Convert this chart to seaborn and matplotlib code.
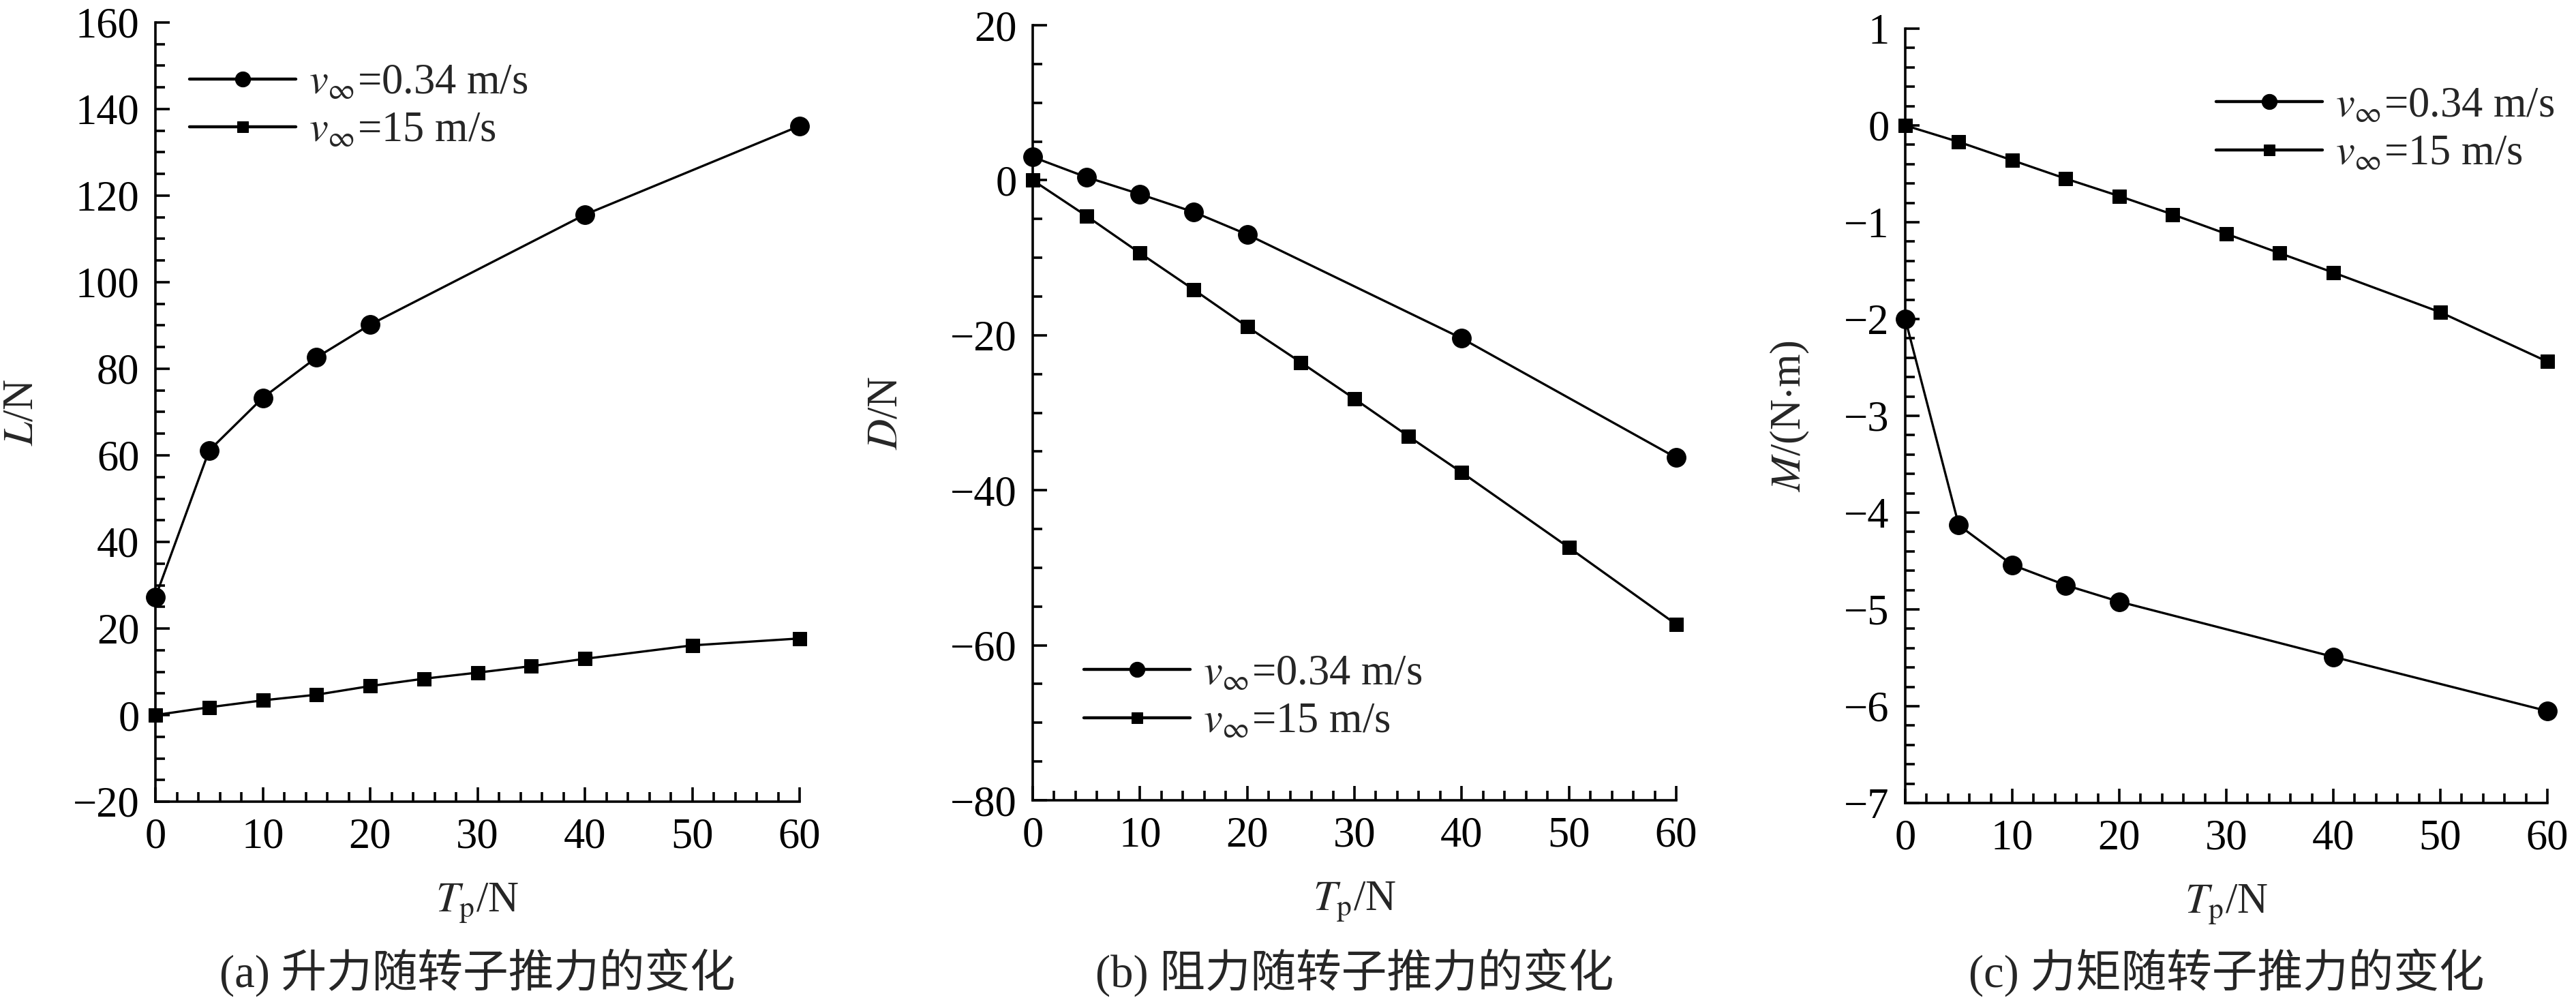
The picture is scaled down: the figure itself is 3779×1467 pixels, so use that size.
import matplotlib
matplotlib.use("Agg")
import matplotlib.pyplot as plt
import seaborn as sns
from matplotlib.ticker import MultipleLocator

# ─── Data ─────────────────────────────────────────────────────────────────────
tp_slow = [0, 5, 10, 15, 20, 40, 60]
tp_fast = [0, 5, 10, 15, 20, 25, 30, 35, 40, 50, 60]

lift_slow = [27.2, 61.1, 73.3, 82.6, 90.2, 115.6, 136.1]
lift_fast = [0.0, 1.8, 3.4, 4.7, 6.7, 8.4, 9.8, 11.3, 13.0, 16.1, 17.7]

drag_slow = [3.0, 0.4, -1.8, -4.1, -7.0, -20.4, -35.8]
drag_fast = [0.0, -4.6, -9.4, -14.1, -18.9, -23.5, -28.2, -33.0, -37.7, -47.4, -57.3]

mom_slow = [-2.0, -4.13, -4.54, -4.75, -4.92, -5.49, -6.05]
mom_fast = [0.0, -0.17, -0.36, -0.55, -0.73, -0.92, -1.12, -1.32, -1.52, -1.93, -2.44]

label_slow = r"$v_{\infty}$=0.34 m/s"
label_fast = r"$v_{\infty}$=15 m/s"

ylabels = [r"$L$/N", r"$D$/N", r"$M$/(N$\cdot$m)"]
captions = ["(a) 升力随转子推力的变化", "(b) 阻力随转子推力的变化", "(c) 力矩随转子推力的变化"]
ylims = [(-20, 160), (-80, 20), (-7, 1)]
ymajor = [20, 20, 1]
yminor = [5, 5, 0.2]

# ─── Style ────────────────────────────────────────────────────────────────────
sns.set_style("ticks")
plt.rcParams["font.family"] = ["Liberation Serif", "Noto Sans CJK SC"]
plt.rcParams["mathtext.fontset"] = "stix"
plt.rcParams["axes.unicode_minus"] = True

FS = 45
W, H = 3780, 1467
fig = plt.figure(figsize=(W / 100, H / 100), dpi=100)

# axes boxes in pixels: (left, top, right, bottom)
boxes = [(228, 33, 1173, 1176), (1515, 37, 2459, 1174), (2795, 42, 3737, 1178)]
ylabel_x = [-0.176, -0.196, -0.146]
legend_anchor = [(0.053, 0.947), (0.079, 0.188), (0.484, 0.925)]

panels = [
    (lift_slow, lift_fast),
    (drag_slow, drag_fast),
    (mom_slow, mom_fast),
]

for i, (ys, yf) in enumerate(panels):
    l, t, r, b = boxes[i]
    ax = fig.add_axes([l / W, 1 - b / H, (r - l) / W, (b - t) / H])

    sns.lineplot(x=tp_slow, y=ys, ax=ax, color="black", lw=2.4, marker="o",
                 markersize=20, markeredgecolor="black", label=label_slow,
                 clip_on=False, zorder=3)
    sns.lineplot(x=tp_fast, y=yf, ax=ax, color="black", lw=2.4, marker="s",
                 markersize=14, markeredgecolor="black", label=label_fast,
                 clip_on=False, zorder=3)

    ax.set_xlim(0, 60)
    ax.set_ylim(*ylims[i])
    ax.xaxis.set_major_locator(MultipleLocator(10))
    ax.xaxis.set_minor_locator(MultipleLocator(2))
    ax.yaxis.set_major_locator(MultipleLocator(ymajor[i]))
    ax.yaxis.set_minor_locator(MultipleLocator(yminor[i]))

    sns.despine(ax=ax)
    for side in ["left", "bottom"]:
        ax.spines[side].set_linewidth(2.6)
        ax.spines[side].set_color("black")
    ax.tick_params(which="both", direction="in", width=2.6, colors="black",
                   labelsize=FS, top=False, right=False)
    ax.tick_params(which="major", length=15, pad=17)
    ax.tick_params(which="minor", length=10)

    ax.set_xlabel(r"$T_{\mathrm{p}}$/N", fontsize=FS, labelpad=26)
    ax.set_ylabel(ylabels[i], fontsize=FS)
    ax.yaxis.set_label_coords(ylabel_x[i], 0.5)

    leg = ax.legend(loc="upper left", bbox_to_anchor=legend_anchor[i],
                    frameon=False, fontsize=FS, handlelength=2.5,
                    handletextpad=0.3, labelspacing=0.2, borderpad=0,
                    borderaxespad=0, markerscale=0.8)
    for h in leg.get_lines():
        h.set_linewidth(3.2)

    fig.text((l + r) / 2 / W, 1 - 1427 / H, captions[i], ha="center",
             va="center", fontsize=48,
             family=["Liberation Serif", "Noto Sans CJK SC"])

fig.savefig("out.png", dpi=100, facecolor="white")
